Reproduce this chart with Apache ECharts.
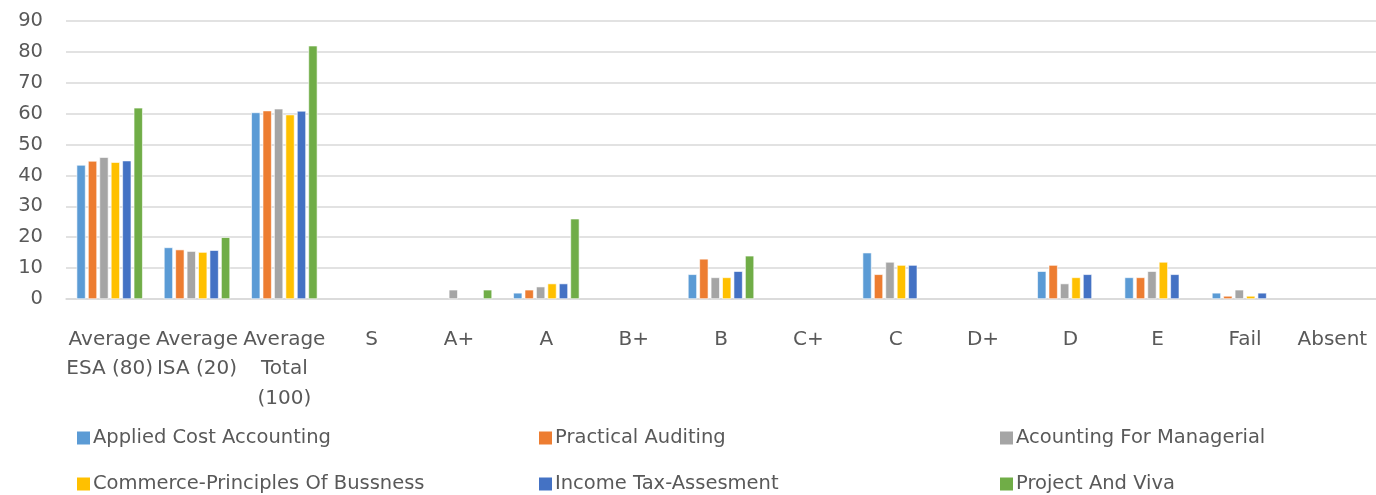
<!DOCTYPE html>
<html>
<head>
<meta charset="utf-8">
<title>Results</title>
<script src="https://cdn.jsdelivr.net/npm/echarts@6/dist/echarts.min.js"></script>
<style>
html, body { margin: 0; padding: 0; background: #fff; }
#chart { width: 1376px; height: 495px; }
</style>
</head>
<body>
<div id="chart"></div>
<script>
// categories on the x axis
var categories = ["Average\nESA (80)", "Average\nISA (20)", "Average\nTotal\n(100)", "S", "A+", "A", "B+", "B", "C+", "C", "D+", "D", "E", "Fail", "Absent"];

// one array per subject (null = no bar)
var appliedCost = [43.4, 16.7, 60.4, null, null, 2, null, 8, null, 15, null, 9, 7, 2, null];
var practicalAuditing = [44.7, 16.0, 61.0, null, null, 3, null, 13, null, 8, null, 11, 7, 1, null];
var acountingManagerial = [45.9, 15.5, 61.6, null, 3, 4, null, 7, null, 12, null, 5, 9, 3, null];
var commercePrinciples = [44.3, 15.2, 59.7, null, null, 5, null, 7, null, 11, null, 7, 12, 1, null];
var incomeTax = [44.8, 15.8, 60.9, null, null, 5, null, 9, null, 11, null, 8, 8, 2, null];
var projectViva = [61.9, 20, 82.0, null, 3, 26, null, 14, null, null, null, null, null, null, null];

var seriesNames = ["Applied Cost Accounting", "Practical Auditing", "Acounting For Managerial",
    "Commerce-Principles Of Bussness", "Income Tax-Assesment", "Project And Viva"];
var seriesData = [appliedCost, practicalAuditing, acountingManagerial, commercePrinciples, incomeTax, projectViva];
var colors = ["#5B9BD5", "#ED7D31", "#A5A5A5", "#FFC000", "#4472C4", "#70AD47"];

var fontFamily = "'DejaVu Sans', sans-serif";
var textColor = "#595959";

// legend spots: 3 columns x 2 rows
var legendLeft = [72, 534, 995];
var legendTop = [423, 469];

var mychart = echarts.init(document.getElementById("chart"));

var series = seriesData.map(function (d, i) {
    return {
        name: seriesNames[i],
        type: "bar",
        data: d,
        barWidth: 9,
        barGap: "27%",
        itemStyle: { color: colors[i], borderColor: "#ffffff", borderWidth: 0.6 },
    };
});

var legends = seriesNames.map(function (n, i) {
    return {
        data: [{ name: n, itemStyle: { color: colors[i], borderWidth: 0 } }],
        left: legendLeft[i % 3],
        top: legendTop[Math.floor(i / 3)],
        icon: "rect",
        itemWidth: 13,
        itemHeight: 13,
        itemGap: 6,
        itemStyle: { borderWidth: 0 },
        textStyle: { color: textColor, fontSize: 19.5, fontFamily: fontFamily, padding: [0, 0, 0, -2] },
        selectedMode: false,
    };
});

mychart.setOption({
    color: colors,
    animation: false,
    grid: { left: 66, right: 0, top: 21, bottom: 196 },
    legend: legends,
    xAxis: {
        type: "category",
        data: categories,
        axisLine: { lineStyle: { color: "#d9d9d9", width: 1.5 } },
        axisTick: { show: false },
        axisLabel: {
            color: textColor,
            fontSize: 20,
            fontFamily: fontFamily,
            lineHeight: 29.5,
            margin: 26,
            interval: 0,
            verticalAlign: "top",
        },
    },
    yAxis: {
        type: "value",
        min: 0,
        max: 90,
        interval: 10,
        axisLine: { show: false },
        axisTick: { show: false },
        splitLine: { lineStyle: { color: "#d9d9d9", width: 1.5 } },
        axisLabel: {
            color: textColor,
            fontSize: 19.5,
            fontFamily: fontFamily,
            margin: 23,
        },
    },
    series: series,
});
</script>
</body>
</html>
